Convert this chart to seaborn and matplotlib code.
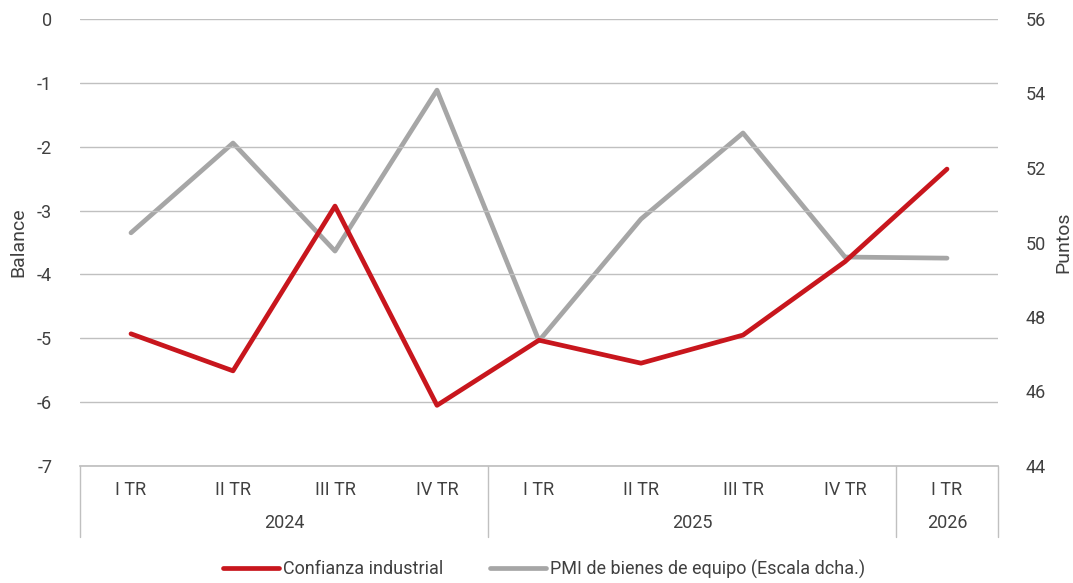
import matplotlib
matplotlib.use("Agg")
import matplotlib.pyplot as plt
import seaborn as sns
import pandas as pd
from matplotlib.lines import Line2D
import matplotlib.transforms as mtransforms

quarters = ["I TR", "II TR", "III TR", "IV TR", "I TR", "II TR", "III TR", "IV TR", "I TR"]
years = ["2024", "2025", "2026"]
year_counts = [4, 4, 1]
confianza = [-4.93, -5.51, -2.93, -6.05, -5.03, -5.39, -4.95, -3.80, -2.35]
pmi = [50.26, 52.67, 49.77, 54.09, 47.36, 50.63, 52.94, 49.61, 49.58]

sns.set_theme(style="white")
plt.rcParams['font.family'] = ['Roboto', 'DejaVu Sans']
plt.rcParams['axes.unicode_minus'] = False
txt = "#404040"
red = "#C8161D"
grey = "#A6A6A6"
fs = 13

df = pd.DataFrame({"pos": range(len(quarters)), "conf": confianza, "pmi": pmi})

fig = plt.figure(figsize=(10.73, 5.83), dpi=100)
W, H = 1073, 583
ax = fig.add_axes([80 / W, 1 - 466 / H, (998 - 80) / W, (466 - 19) / H])
ax2 = ax.twinx()

for y in range(0, -8, -1):
    ax.axhline(y, color="#C0C0C0", lw=1.0, zorder=0)

sns.lineplot(data=df, x="pos", y="conf", ax=ax, color=red, lw=3.4, zorder=3)
sns.lineplot(data=df, x="pos", y="pmi", ax=ax2, color=grey, lw=3.4, zorder=2)
ax.set_zorder(ax2.get_zorder() + 1)
ax.patch.set_visible(False)

ax.set_xlim(-0.5, len(quarters) - 0.5)
ax.set_ylim(-7, 0)
ax2.set_ylim(44, 56)
ax.set_yticks(range(-7, 1))
ax2.set_yticks(range(44, 57, 2))
ax.set_xticks([])
ax2.set_xticks([])

for a in (ax, ax2):
    for s in a.spines.values():
        s.set_visible(False)
ax.spines["bottom"].set_visible(True)
ax.spines["bottom"].set_color("#C0C0C0")

ax.tick_params(axis="y", length=0, pad=20, labelsize=fs, labelcolor=txt)
ax2.tick_params(axis="y", length=0, pad=20, labelsize=fs, labelcolor=txt)
ax.set_ylabel("Balance", fontsize=14, color=txt)
ax2.set_ylabel("Puntos", fontsize=14, color=txt)
ax.yaxis.set_label_coords((27 - 80) / 918, 0.5)
ax2.yaxis.set_label_coords((1054 - 80) / 918, 0.5)
ax.set_xlabel("")
ax2.set_xlabel("")

# Category axis
trans = mtransforms.blended_transform_factory(ax.transData, fig.transFigure)
y_q = 1 - 490 / H
y_y = 1 - 523 / H
y_bot = 1 - 537 / H
y_top = 1 - 466 / H
for i, q in enumerate(quarters):
    ax.text(i, y_q, q, transform=trans, ha="center", va="center", fontsize=fs, color=txt)
start = 0
bounds = [-0.5]
for yr, n in zip(years, year_counts):
    ax.text(start + (n - 1) / 2, y_y, yr, transform=trans, ha="center", va="center", fontsize=fs, color=txt)
    start += n
    bounds.append(start - 0.5)
for b in bounds:
    fig.add_artist(Line2D([b, b], [y_bot, y_top], transform=trans, color="#C0C0C0", lw=1.0))

handles = [Line2D([], [], color=red, lw=3.4), Line2D([], [], color=grey, lw=3.4)]
fig.legend(handles, ["Confianza industrial", "PMI de bienes de equipo (Escala dcha.)"],
           loc="center", bbox_to_anchor=(544 / W, 1 - 569 / H), ncol=2, frameon=False,
           fontsize=fs, labelcolor=txt, handlelength=3.1, handletextpad=0.2, columnspacing=2.6)

fig.savefig("out.png", dpi=100)
